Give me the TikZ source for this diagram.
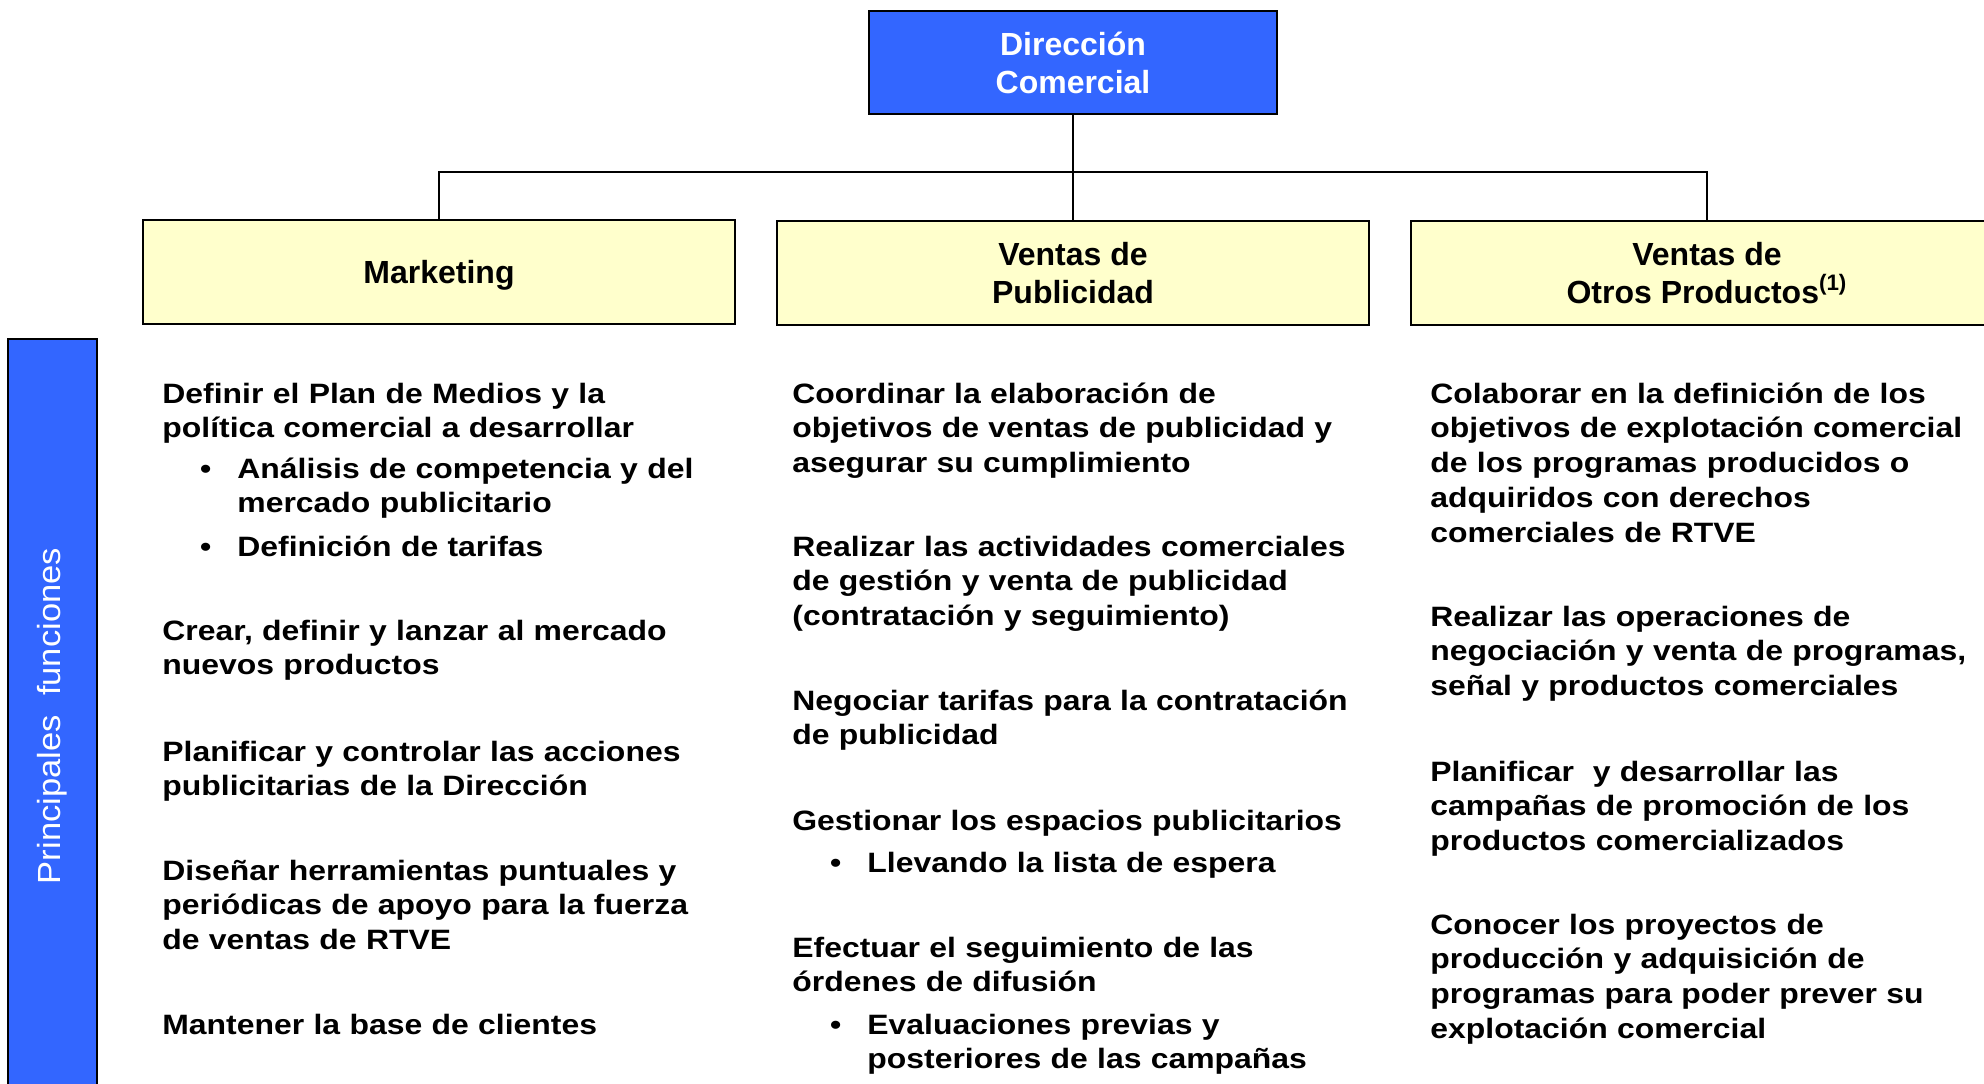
\documentclass[tikz,border=0pt]{standalone}
\usepackage{fontspec}
\setmainfont{Liberation Sans}
\newfontfamily\bodyfont{Liberation Sans}[FakeStretch=1.14]
\newfontfamily\sidefont{Liberation Sans}[FakeStretch=1.08]
\definecolor{dirblue}{RGB}{51,102,255}
\definecolor{boxyellow}{RGB}{255,255,204}
\newcommand{\itembullet}{\leavevmode\llap{\textbullet\hspace{13pt}}}

\begin{document}
\begin{tikzpicture}[x=0.5pt, y=-0.5pt,
    unitbox/.style={draw=black, line width=1.1pt, inner sep=0pt, align=center,
        font=\fontsize{16pt}{19pt}\selectfont\bfseries},
    duty/.style={anchor=base west, inner sep=0pt, text width=320pt, align=left,
        font=\bodyfont\fontsize{14pt}{17.4pt}\selectfont\bfseries}]
    \useasboundingbox (0,0) rectangle (1984,1083);
    \clip (0,0) rectangle (1984,1083);

    % Direccion and its three units
    \node[unitbox, fill=dirblue, text=white, minimum width=204pt, minimum height=51.5pt]
        (dir) at (1073,62.5) {Dirección\\Comercial};
    \node[unitbox, fill=boxyellow, minimum width=296pt, minimum height=52pt, text depth=0pt]
        (mkt) at (439,272) {Marketing};
    \node[unitbox, fill=boxyellow, minimum width=296pt, minimum height=52pt]
        (pub) at (1073,273) {Ventas de\\Publicidad};
    \node[unitbox, fill=boxyellow, minimum width=296pt, minimum height=52pt]
        (otr) at (1707,273) {Ventas de\\Otros Productos\textsuperscript{(1)}};

    \coordinate (bus) at (1073,172);
    \draw[line width=1pt] (dir.south) -- (pub.north);
    \draw[line width=1pt] (mkt.north) -- (mkt.north |- bus) -- (otr.north |- bus) -- (otr.north);

    % Side bar
    \node[draw=black, line width=1.1pt, fill=dirblue, minimum width=44.5pt, minimum height=381pt]
        (side) at (52.5,720) {};
    \node[rotate=90, text=white, inner sep=0pt, font=\sidefont\fontsize{16pt}{19pt}\selectfont]
        (sidelbl) at (52,716) {Principales~~funciones};

    % Marketing
    \node[duty] (mk1) at (162,403) {Definir el Plan de Medios y la\\política comercial a desarrollar};
    \node[duty] (mk1a) at (237,478) {\itembullet Análisis de competencia y del\\mercado publicitario};
    \node[duty] (mk1b) at (237,556) {\itembullet Definición de tarifas};
    \node[duty] (mk2) at (162,640) {Crear, definir y lanzar al mercado\\nuevos productos};
    \node[duty] (mk3) at (162,761) {Planificar y controlar las acciones\\publicitarias de la Dirección};
    \node[duty] (mk4) at (162,880) {Diseñar herramientas puntuales y\\periódicas de apoyo para la fuerza\\de ventas de RTVE};
    \node[duty] (mk5) at (162,1034) {Mantener la base de clientes};

    % Ventas de Publicidad
    \node[duty] (pu1) at (792,403) {Coordinar la elaboración de\\objetivos de ventas de publicidad y\\asegurar su cumplimiento};
    \node[duty] (pu2) at (792,556) {Realizar las actividades comerciales\\de gestión y venta de publicidad\\(contratación y seguimiento)};
    \node[duty] (pu3) at (792,710) {Negociar tarifas para la contratación\\de publicidad};
    \node[duty] (pu4) at (792,830) {Gestionar los espacios publicitarios};
    \node[duty] (pu4a) at (867,872) {\itembullet Llevando la lista de espera};
    \node[duty] (pu5) at (792,957) {Efectuar el seguimiento de las\\órdenes de difusión};
    \node[duty] (pu5a) at (867,1034) {\itembullet Evaluaciones previas y\\posteriores de las campañas};

    % Ventas de Otros Productos
    \node[duty] (ot1) at (1430,403) {Colaborar en la definición de los\\objetivos de explotación comercial\\de los programas producidos o\\adquiridos con derechos\\comerciales de RTVE};
    \node[duty] (ot2) at (1430,626) {Realizar las operaciones de\\negociación y venta de programas,\\señal y productos comerciales};
    \node[duty] (ot3) at (1430,781) {Planificar~~y desarrollar las\\campañas de promoción de los\\productos comercializados};
    \node[duty] (ot4) at (1430,934) {Conocer los proyectos de\\producción y adquisición de\\programas para poder prever su\\explotación comercial};
\end{tikzpicture}
\end{document}
